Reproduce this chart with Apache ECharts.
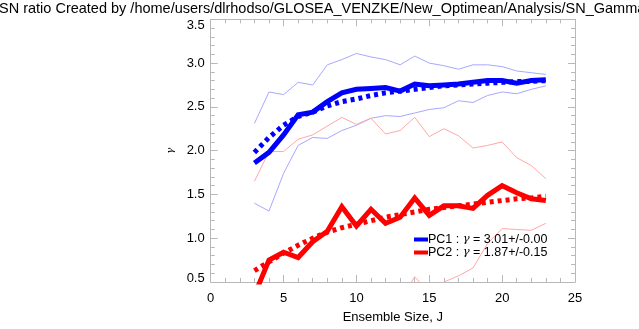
<!DOCTYPE html>
<html>
<head>
<meta charset="utf-8">
<script src="https://cdn.jsdelivr.net/npm/echarts@6/dist/echarts.min.js"></script>
<style>
html,body{margin:0;padding:0;background:#fff;}
#c{width:639px;height:329px;}
</style>
</head>
<body>
<div id="c"></div>
<script>
var titleText = 'SN ratio Created by /home/users/dlrhodso/GLOSEA_VENZKE/New_Optimean/Analysis/SN_Gamma';
var xName = 'Ensemble Size, J';
var yName = 'γ';
var ensembleSize = [3,4,5,6,7,8,9,10,11,12,13,14,15,16,17,18,19,20,21,22,23];
var pc1 = [1.86,1.98,2.18,2.41,2.44,2.56,2.66,2.70,2.71,2.72,2.68,2.76,2.74,2.75,2.76,2.78,2.80,2.80,2.77,2.80,2.81];
var pc1Fit = [1.98,2.15,2.29,2.39,2.44,2.51,2.56,2.59,2.63,2.66,2.68,2.70,2.72,2.74,2.75,2.76,2.77,2.78,2.79,2.79,2.80];
var pc1Hi = [2.31,2.67,2.64,2.78,2.75,2.98,3.04,3.11,3.07,3.04,2.98,3.08,3.00,2.97,2.93,2.98,2.98,2.96,2.91,2.89,2.87];
var pc1Lo = [1.40,1.31,1.74,2.06,2.15,2.14,2.23,2.29,2.37,2.40,2.39,2.43,2.47,2.49,2.57,2.55,2.63,2.67,2.65,2.70,2.74];
var pc2 = [0.35,0.75,0.84,0.78,0.96,1.08,1.36,1.14,1.33,1.17,1.24,1.46,1.26,1.37,1.37,1.34,1.49,1.60,1.52,1.45,1.43];
var pc2Fit = [0.63,0.73,0.83,0.92,1.00,1.07,1.12,1.16,1.20,1.24,1.27,1.30,1.33,1.35,1.37,1.39,1.41,1.43,1.45,1.46,1.48];
var pc2Hi = [1.65,1.99,1.99,2.13,2.18,2.28,2.38,2.30,2.37,2.19,2.23,2.38,2.16,2.25,2.17,2.03,2.06,2.10,1.92,1.83,1.68];
var pc2Lo = [-0.6,-0.4,-0.3,-0.1,0.0,0.1,0.2,0.15,0.25,0.2,0.3,0.56,0.38,0.50,0.57,0.66,0.94,1.11,1.10,1.09,1.17];
var legendNames = ['PC1 : γ = 3.01+/-0.00', 'PC2 : γ = 1.87+/-0.15'];

function pairs(ys){ return ensembleSize.map(function(x,i){ return [x, ys[i]]; }); }

var FONT = 'Liberation Sans, Arial, Helvetica, sans-serif';
var frameColor = '#b8b8b8';
var chart = echarts.init(document.getElementById('c'), null, {renderer:'canvas'});

function thin(name, data, color){
  return {name:name, type:'line', data:pairs(data), showSymbol:false, symbol:'none', clip:true,
    lineStyle:{color:color, width:1}, itemStyle:{color:color}, z:2, silent:true};
}
function thick(name, data, color, dashed){
  return {name:name, type:'line', data:pairs(data), showSymbol:false, symbol:'none', clip:true,
    lineStyle:{color:color, width:5, type: dashed ? [4,4] : 'solid', cap: 'butt', join:'miter'},
    itemStyle:{color:color}, z: dashed ? 4 : 5, silent:true};
}

var option = {
  animation:false,
  backgroundColor:'#fff',
  title:{text:titleText, left:-1, top:1, padding:0,
    textStyle:{fontFamily:FONT, fontSize:14.5, fontWeight:'normal', color:'#000'}},
  grid:{left:210.7, right:64, top:19.3, bottom:40.7, containLabel:false},
  legend:{
    data:legendNames, orient:'vertical', left:414, top:233, padding:0, itemGap:0,
    itemWidth:14, itemHeight:4, icon:'rect', selectedMode:false,
    textStyle:{fontFamily:FONT, fontSize:12.5, color:'#000', padding:[0,0,0,-5], lineHeight:13,
      rich:{g:{fontStyle:'italic', fontFamily:'DejaVu Serif, serif', fontSize:11.5}, n:{fontFamily:FONT, fontSize:12.5}}},
    formatter:function(name){ var p = name.split('γ'); return '{n|' + p[0] + '}{g|γ}{n|' + p[1] + '}'; }
  },
  xAxis:[{
    type:'value', min:0, max:25, interval:5, position:'bottom',
    name:xName, nameLocation:'middle', nameGap:29,
    nameTextStyle:{fontFamily:FONT, fontSize:13, color:'#000'},
    axisLine:{show:true, onZero:false, lineStyle:{color:frameColor, width:1}},
    axisTick:{show:true, inside:true, length:7, lineStyle:{color:frameColor}},
    minorTick:{show:true, splitNumber:5, length:4, lineStyle:{color:frameColor}},
    axisLabel:{fontFamily:FONT, fontSize:13, color:'#000', margin:10},
    splitLine:{show:false}
  },{
    type:'value', min:0, max:25, interval:5, position:'top',
    axisLine:{show:true, onZero:false, lineStyle:{color:frameColor, width:1}},
    axisTick:{show:true, inside:true, length:7, lineStyle:{color:frameColor}},
    minorTick:{show:true, splitNumber:5, length:4, lineStyle:{color:frameColor}},
    axisLabel:{show:false}, splitLine:{show:false}
  }],
  yAxis:[{
    type:'value', min:0.5, max:3.5, interval:0.5, position:'left',
    name:yName, nameLocation:'middle', nameGap:35, nameRotate:90,
    nameTextStyle:{fontFamily:'DejaVu Serif, serif', fontStyle:'italic', fontSize:10, color:'#000'},
    axisLine:{show:true, onZero:false, lineStyle:{color:frameColor, width:1}},
    axisTick:{show:true, inside:true, length:7, lineStyle:{color:frameColor}},
    minorTick:{show:true, splitNumber:5, length:4, lineStyle:{color:frameColor}},
    axisLabel:{fontFamily:FONT, fontSize:13, color:'#000', margin:6,
      formatter:function(v){
        var s = v.toFixed(1);
        if (v >= 3.5) return '{t|' + s + '}';
        if (v <= 0.5) return '{b|' + s + '}';
        return s;
      },
      rich:{t:{fontFamily:FONT, fontSize:13, color:'#000', padding:[12,0,0,0]},
            b:{fontFamily:FONT, fontSize:13, color:'#000', padding:[0,0,8,0]}}
    },
    splitLine:{show:false}
  },{
    type:'value', min:0.5, max:3.5, interval:0.5, position:'right',
    axisLine:{show:true, onZero:false, lineStyle:{color:frameColor, width:1}},
    axisTick:{show:true, inside:true, length:7, lineStyle:{color:frameColor}},
    minorTick:{show:true, splitNumber:5, length:4, lineStyle:{color:frameColor}},
    axisLabel:{show:false}, splitLine:{show:false}
  }],
  series:[
    thin('PC1 hi', pc1Hi, '#a8a8ff'),
    thin('PC1 lo', pc1Lo, '#a8a8ff'),
    thin('PC2 hi', pc2Hi, '#ffa8a8'),
    thin('PC2 lo', pc2Lo, '#ffa8a8'),
    thick('PC1 fit', pc1Fit, '#0000ff', true),
    thick(legendNames[0], pc1, '#0000ff', false),
    thick('PC2 fit', pc2Fit, '#ff0000', true),
    thick(legendNames[1], pc2, '#ff0000', false)
  ]
};
chart.setOption(option);
</script>
</body>
</html>
